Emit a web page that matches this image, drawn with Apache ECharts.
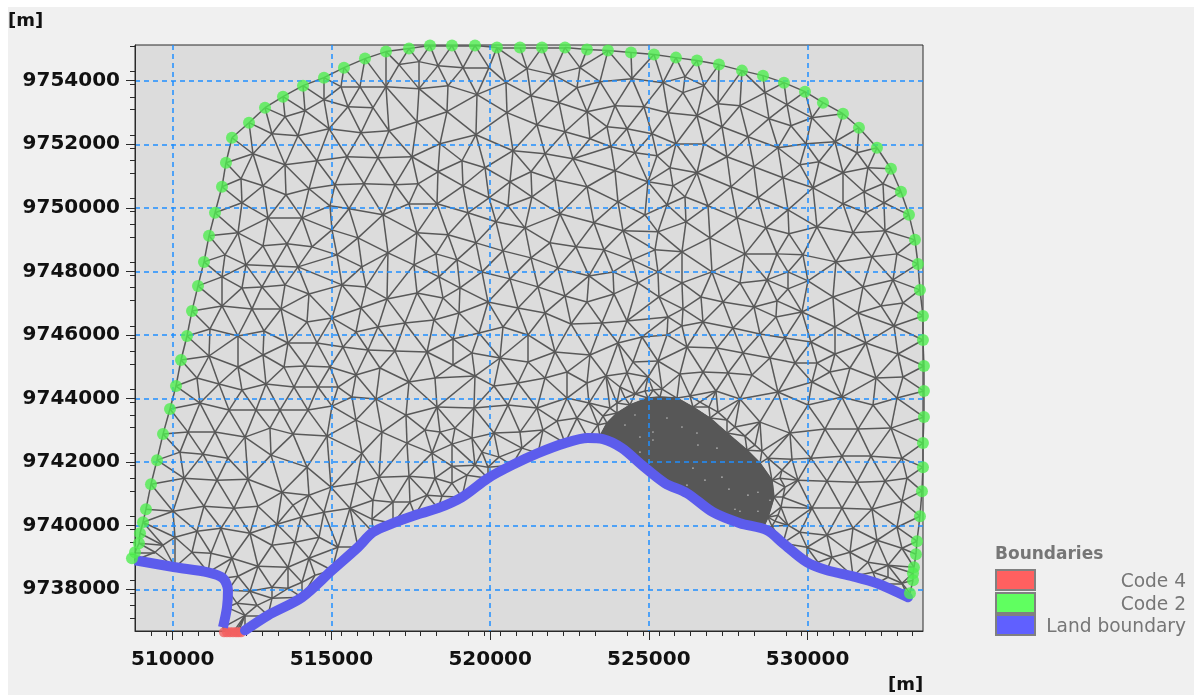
<!DOCTYPE html>
<html>
<head>
<meta charset="utf-8">
<script src="https://cdn.jsdelivr.net/npm/echarts@6/dist/echarts.min.js"></script>
<style>
html,body{margin:0;padding:0;background:#fff;width:1194px;height:695px;overflow:hidden}
#bg{position:absolute;left:8px;top:7px;width:1186px;height:688px;background:#f0f0f0}
#chart{position:absolute;left:0;top:0;width:1194px;height:695px}
</style>
</head>
<body>
<div id="bg"></div>
<div id="chart"></div>
<script>
const xTicks = [510000,515000,520000,525000,530000];
const yTicks = [9738000,9740000,9742000,9744000,9746000,9748000,9750000,9752000,9754000];
const xMin = 508813, xMax = 533636, yMin = 9736688, yMax = 9755123;
const legendNames = ['Code 4','Code 2','Land boundary'];

const greenNodes = [
[508718,9738976],[508813,9739165],[508939,9739449],[508970,9739764],[509065,9740110],[509159,9740520],[509317,9741307],[509506,9742063],[509695,9742882],[509915,9743670],[510104,9744394],[510262,9745213],[510451,9745969],[510608,9746757],[510797,9747544],[510986,9748300],[511144,9749119],[511333,9749844],[511553,9750663],[511679,9751419],[511868,9752206],[512404,9752679],[512908,9753151],[513475,9753498],[514105,9753844],[514766,9754096],[515396,9754411],[516058,9754695],[516719,9754915],[517444,9755010],[518105,9755104],[518798,9755104],[519523,9755104],[520216,9755041],[520940,9755041],[521633,9755041],[522358,9755041],[523051,9754978],[523712,9754947],[524437,9754884],[525161,9754821],[525854,9754726],[526516,9754632],[527209,9754506],[527933,9754317],[528595,9754159],[529256,9753939],[529918,9753655],[530485,9753309],[531115,9752962],[531619,9752521],[532186,9751891],[532627,9751230],[532942,9750505],[533194,9749781],[533383,9748993],[533477,9748237],[533540,9747418],[533635,9746599],[533635,9745843],[533666,9745024],[533666,9744237],[533666,9743418],[533635,9742599],[533635,9741843],[533603,9741087],[533540,9740299],[533446,9739512],[533414,9739102],[533351,9738693],[533320,9738504],[533320,9738283],[533225,9737874]];

const landWest = [[508813,9738913],[510073,9738693],[511112,9738535],[511585,9738346],[511742,9737968],[511711,9737433],[511585,9736803]];

const landMain = [[512278,9736708],[513002,9737181],[514073,9737748],[515018,9738598],[515837,9739323],[516310,9739795],[516940,9740079],[517633,9740331],[518357,9740551],[519113,9740898],[519932,9741496],[520688,9741906],[521507,9742284],[522358,9742599],[523082,9742756],[523555,9742725],[524153,9742441],[524783,9741906],[525508,9741339],[526201,9741024],[527020,9740425],[527870,9740079],[528721,9739858],[529225,9739449],[529981,9738850],[530611,9738598],[531430,9738409],[532186,9738189],[533162,9737748]];

const redNodes = [[511616,9736645],[511710,9736645],[511805,9736645],[511900,9736645],[511994,9736645],[512070,9736645],[512152,9736645]];

const blobEdge = [[523460,9742819],[523681,9743229],[523996,9743544],[524405,9743796],[524972,9744016],[525350,9744048],[525886,9744016],[526390,9743733],[526925,9743386],[527461,9742914],[528091,9742378],[528500,9741969],[528878,9741433],[528941,9740898],[528752,9740268],[528595,9739921],[527870,9740079],[527020,9740425],[526201,9741024],[525508,9741339],[524783,9741906],[524153,9742441]];

const blobFringe = [[523397,9743166],[523775,9743701],[524248,9744016],[524878,9744237],[525413,9744300],[526610,9743890],[527177,9743575],[527713,9743103],[528343,9742536],[528752,9742126],[529130,9741496],[529225,9740898],[529067,9740331],[528878,9739984]];

const blobFringeFine = [[529193,9741748],[529288,9741213],[529162,9740583],[528973,9740142],[528563,9742347],[528028,9742819],[527461,9743323],[526894,9743733],[526295,9744079],[525130,9744268],[524563,9744142],[523996,9743859],[523555,9743449]];

const blobSpecks = [[526390,9741811],[526547,9742536],[527146,9742441],[526768,9741433],[527303,9741528],[526201,9741276],[528122,9740961],[528437,9741055],[527870,9740457],[528437,9740457],[527524,9741150],[527713,9740520],[528815,9740803],[525571,9743386],[526043,9743103],[526516,9742914],[524248,9743166],[524563,9743481],[524720,9742788],[525130,9742945],[525130,9742693],[524720,9742315]];

const meshNodes = [
[514766,9753403],[514168,9753057],[513538,9752868],[513128,9752332],[513947,9752269],[514924,9752490],[515932,9752364],[516814,9752427],[515522,9753183],[516310,9753151],[515900,9753813],[516719,9753813],[515302,9753813],[517129,9754506],[512530,9751702],[513538,9751356],[514546,9751482],[515491,9751608],[516467,9751576],[512845,9750694],[512152,9750915],[513569,9750411],[514294,9750600],[515113,9750726],[516026,9750757],[517003,9750726],[512183,9750159],[513002,9749686],[514073,9749686],[514955,9750064],[515554,9749970],[516625,9749781],[512057,9749214],[515018,9749308],[515837,9749056],
[517759,9754600],[518357,9754474],[519145,9754411],[519964,9754411],[521161,9754380],[521980,9754191],[522830,9754411],[523460,9753970],[524468,9754065],[525445,9753939],[520499,9753939],[517759,9753750],[518672,9753844],[519586,9753561],[521287,9753529],[522169,9753309],[522736,9753781],[523051,9753025],[523933,9753214],[524846,9753183],[525602,9752994],[518641,9753025],[517696,9752710],[520531,9752994],[519554,9752301],[521476,9752616],[522358,9752395],[523681,9752553],[524311,9752490],[525098,9752332],[523145,9752175],[523807,9751923],[518420,9752017],[517538,9751608],[519113,9751482],[520720,9751797],[521728,9751702],[522610,9751545],[524563,9751734],[525256,9751639],[519838,9751261],[518357,9751135],[521287,9751135],[523933,9751167],[524972,9750820],[520625,9750820],[522043,9750883],[523051,9750663],[517727,9750757],[519145,9750694],[519964,9750316],[521318,9750348],[518326,9750127],[517444,9750127],[520562,9750064],[524027,9750190],[525571,9750096],[519302,9749844],[522200,9749812],[524878,9749781],[520184,9749560],[521098,9749371],[523271,9749529],[524185,9749277],[517696,9749214],[518672,9749151],[525287,9749245],
[526138,9754128],[526736,9753844],[526075,9753624],[527870,9753214],[527177,9753277],[528658,9753624],[529351,9753246],[530138,9752836],[529477,9752584],[528784,9752805],[526516,9752899],[527303,9752553],[528122,9752238],[529067,9751891],[529949,9752017],[530863,9752080],[531556,9751734],[525854,9752017],[526736,9752017],[527461,9751608],[528311,9751293],[529760,9751356],[530359,9751450],[531115,9751104],[531902,9751261],[532375,9750757],[531776,9750505],[532406,9750159],[531839,9749844],[531115,9750127],[530170,9750631],[529225,9750946],[526516,9751104],[525665,9751261],[525760,9750694],[527587,9750663],[528437,9750316],[526138,9750348],[526862,9750064],[529382,9749938],[527776,9749686],[528689,9749371],[526169,9749560],[526925,9749056],[530296,9749403],[529414,9749182],[531430,9749214],[532438,9749277],
[511648,9748521],[512309,9748206],[513191,9748174],[513947,9748143],[512845,9748804],[513601,9748867],[514388,9748773],[515176,9748521],[515963,9748143],[516782,9748584],[511553,9747828],[512183,9747481],[512813,9747513],[513538,9747576],[514294,9747292],[515333,9747576],[516089,9747513],[516751,9747135],[511553,9746914],[512498,9746820],[513412,9746820],[514231,9746410],[515018,9746536],[515932,9746851],[511175,9746190],[512057,9745969],[512876,9746127],[513632,9745749],[514546,9745749],[515774,9746095],[516467,9746253],[515365,9745623],[516152,9745528],[517003,9745497],[511144,9745339],[512845,9745371],[512057,9744993],[513506,9744993],[514168,9745024],[514955,9744993],[515774,9744741],[516530,9744961],[510766,9744646],[511459,9744457],[512939,9744457],[513821,9744363],[514577,9744363],[515207,9744363],[510860,9743859],[512183,9744268],[511774,9743638],[512624,9743638],[513380,9743638],[514262,9743638],[515018,9743764],[515648,9744048],[516404,9743985],[515774,9743323],[510482,9742945],[511333,9742945],[512278,9742788],[513065,9743071],[513790,9742882],[514861,9742819],[516593,9742945],
[518294,9748552],[518956,9748363],[519554,9748899],[520405,9748647],[521287,9748426],[521885,9748899],[522704,9748773],[522137,9748111],[523586,9748678],[524468,9748363],[525193,9748678],[517601,9748206],[518389,9747828],[519743,9747985],[520625,9747765],[521507,9747513],[523114,9747859],[523870,9747985],[524657,9747639],[525287,9747985],[517696,9747324],[519050,9747481],[518515,9747166],[519932,9747040],[520877,9746851],[522358,9747229],[523051,9747040],[523901,9747292],[525319,9747198],[519019,9746694],[518231,9746473],[517318,9746379],[521728,9746694],[520405,9746253],[519649,9746064],[521192,9746001],[522547,9746347],[523523,9746379],[524311,9746442],[524783,9745938],[525571,9746001],[518830,9745875],[518011,9745465],[519428,9745434],[520310,9745276],[522043,9745465],[523145,9745371],[524027,9745749],[524500,9745150],[525287,9745182],[521192,9745150],[518830,9745056],[519523,9744709],[518263,9744646],[517444,9744520],[520121,9744394],[520877,9744489],[521728,9744646],[522421,9744835],[523649,9744709],[524311,9744804],[524972,9744678],[523051,9744489],[524090,9744363],[522421,9744016],[523114,9743859],[521476,9743701],[520562,9743796],[519491,9743701],[518326,9743733],[517349,9743481],[518893,9743071],[520121,9742914],[520940,9742945],[521665,9743008],[518420,9742945],[517948,9743008],[522736,9743386],[523460,9743481],[522421,9742851],
[526043,9748615],[526988,9748993],[528028,9748552],[529036,9748552],[529855,9748521],[530894,9748300],[532028,9748458],[532816,9748552],[526988,9747985],[526043,9747639],[527870,9747639],[528721,9747733],[529382,9747985],[530012,9747702],[530800,9747198],[531745,9747513],[532690,9747733],[526642,9747198],[527335,9747040],[528311,9746883],[529036,9747072],[529382,9747450],[529823,9746725],[531587,9746694],[532312,9746914],[533005,9747009],[526075,9746820],[525602,9746568],[526705,9746410],[527650,9746221],[526043,9746284],[528500,9746032],[529004,9746568],[529288,9745906],[530863,9746253],[532721,9746284],[530107,9745780],[531839,9745749],[526201,9745623],[527146,9745591],[527965,9745434],[528815,9745276],[530863,9745402],[532847,9745402],[529603,9745119],[530296,9745119],[531335,9744961],[530705,9744835],[532154,9744646],[533005,9744678],[526705,9744835],[527492,9744804],[525980,9744772],[528248,9744741],[530138,9744520],[529067,9744205],[531083,9744048],[532060,9743796],[532816,9744016],[528122,9744489],[526390,9744237],[527114,9744237],[525886,9744237],[527870,9743985],[530012,9743796],[528500,9743260],[527776,9743197],[529445,9742914],[530548,9743040],[531587,9743040],[532627,9743071],[528154,9742788],
[528595,9742599],[529288,9742693],[529508,9742095],[530107,9742126],[531083,9742189],[531997,9742189],[532973,9742126],[529036,9742221],[529697,9741433],[530611,9741402],[531556,9741370],[532438,9741402],[533131,9741496],[529382,9740835],[530138,9740551],[531083,9740551],[532028,9740520],[532973,9740772],[529036,9740110],[529760,9739795],[530611,9739701],[531430,9739921],[532186,9739543],[532816,9739953],[532973,9739291],[531335,9739165],[530768,9739008],[531902,9738850],[532532,9738756],[529981,9739323],[530327,9738850],[533068,9738693],[532973,9738189],[532532,9738378],[531430,9738661],[532060,9738535],[529382,9740016],
[510230,9742315],[510955,9742252],[511742,9742126],[513097,9742221],[514231,9741843],[515963,9742284],[510356,9741496],[511396,9741433],[512372,9741464],[513443,9741055],[514294,9740961],[514987,9741213],[515774,9741339],[516499,9741528],[510010,9740457],[510986,9740614],[511931,9740551],[512687,9740614],[513790,9740646],[514766,9740425],[515585,9740551],[516310,9740803],[516940,9740740],[514042,9740268],[513286,9740047],[510766,9739827],[511522,9739921],[512435,9739764],[510073,9739638],[509222,9739606],[509695,9739386],[510608,9739165],[511207,9739134],[511868,9738976],[513128,9739386],[513853,9739480],[514609,9739638],[515207,9739323],[515743,9739543],[516278,9740205],[512687,9738724],[513632,9738693],[514294,9738976],[514924,9738882],[512057,9738409],[512435,9737937],[513128,9738063],[513632,9738031],[514483,9738441],[514073,9738220],[512026,9737559],[512656,9737496],[513128,9737716],[512278,9737181],[512026,9736866],[509443,9739165],[510010,9738882],
[517381,9742599],[518798,9742567],[519428,9742756],[522106,9743291],[518168,9742284],[519743,9742315],[521003,9742441],[521381,9742504],[521696,9742693],[520279,9742158],[520720,9742158],[518798,9741874],[519523,9741906],[519932,9741843],[517444,9741559],[518263,9741496],[519271,9741591],[518798,9741339],[518011,9740961],[518483,9740929],[517475,9740740],[517003,9740646]];

function delaunay(pts) {
  const cx = (xMin + xMax) / 2, cy = (yMin + yMax) / 2, big = 1e6;
  const p = pts.map(q => [q[0] - cx, q[1] - cy]);
  const n = p.length;
  p.push([-big, -big], [big, -big], [0, big]);
  const circ = (a, b, c) => {
    const A = p[a], B = p[b], C = p[c];
    const d = 2 * (A[0] * (B[1] - C[1]) + B[0] * (C[1] - A[1]) + C[0] * (A[1] - B[1]));
    const s = q => q[0] * q[0] + q[1] * q[1];
    const ux = (s(A) * (B[1] - C[1]) + s(B) * (C[1] - A[1]) + s(C) * (A[1] - B[1])) / d;
    const uy = (s(A) * (C[0] - B[0]) + s(B) * (A[0] - C[0]) + s(C) * (B[0] - A[0])) / d;
    return { a, b, c, ux, uy, r: (A[0] - ux) ** 2 + (A[1] - uy) ** 2 };
  };
  let tris = [circ(n, n + 1, n + 2)];
  for (let i = 0; i < n; i++) {
    const q = p[i], keep = [], edges = new Map();
    for (const t of tris) {
      if ((q[0] - t.ux) ** 2 + (q[1] - t.uy) ** 2 < t.r) {
        for (const [u, v] of [[t.a, t.b], [t.b, t.c], [t.c, t.a]]) {
          const k = u < v ? u + '_' + v : v + '_' + u;
          edges.set(k, edges.has(k) ? null : [u, v]);
        }
      } else keep.push(t);
    }
    for (const e of edges.values()) if (e) keep.push(circ(e[0], e[1], i));
    tris = keep;
  }
  return tris.filter(t => t.a < n && t.b < n && t.c < n);
}
function inside(poly, x, y) {
  let c = false;
  for (let i = 0, j = poly.length - 1; i < poly.length; j = i++) {
    const a = poly[i], b = poly[j];
    if ((a[1] > y) !== (b[1] > y) && x < (b[0] - a[0]) * (y - a[1]) / (b[1] - a[1]) + a[0]) c = !c;
  }
  return c;
}
const domain = [...greenNodes, ...landMain.slice().reverse(), ...redNodes.slice().reverse(), ...landWest.slice().reverse()];
const allNodes = [...domain, ...blobEdge.slice(0, 16), ...blobFringe, ...blobFringeFine];
// Crops of the picture overlap, so a node read twice is kept only once.
for (const m of meshNodes) {
  if (!allNodes.some(q => Math.hypot(q[0] - m[0], q[1] - m[1]) < 330)) allNodes.push(m);
}
const edgeKeys = new Set(), meshEdges = [];
function addEdge(a, b) {
  const k = a < b ? a + '_' + b : b + '_' + a;
  if (edgeKeys.has(k)) return;
  edgeKeys.add(k);
  meshEdges.push({ coords: [allNodes[a], allNodes[b]] });
}
for (const t of delaunay(allNodes)) {
  const A = allNodes[t.a], B = allNodes[t.b], C = allNodes[t.c];
  const gx = (A[0] + B[0] + C[0]) / 3, gy = (A[1] + B[1] + C[1]) / 3;
  const ok = [[A, B], [B, C], [C, A]].every(([u, v]) => {
    const mx = (u[0] + v[0]) / 2, my = (u[1] + v[1]) / 2;
    return inside(domain, mx + (gx - mx) * 0.1, my + (gy - my) * 0.1);
  }) && inside(domain, gx, gy);
  if (ok) { addEdge(t.a, t.b); addEdge(t.b, t.c); addEdge(t.c, t.a); }
}
for (let i = 1; i < greenNodes.length; i++) addEdge(i - 1, i);

const fontFam = '"DejaVu Sans", sans-serif';
const chart = echarts.init(document.getElementById('chart'), null, { renderer: 'canvas' });
const axisCommon = {
  type: 'value', z: 2, scale: true,
  axisLine: { show: true, onZero: false, lineStyle: { color: '#2a2a2a', width: 1 } },
  minorTick: { show: true, length: 5, lineStyle: { color: '#2a2a2a', width: 1 } },
  minorSplitLine: { show: false }
};
const legendY = [569, 592, 614];
const legendFill = ['#ff6060', '#60ff60', '#6060ff'];
const legendGraphic = [];
legendY.forEach((y, i) => {
  legendGraphic.push({ type: 'rect', left: 995, top: y, shape: { width: 39, height: 20 }, style: { fill: legendFill[i], stroke: '#808080', lineWidth: 2 } });
  legendGraphic.push({ type: 'text', right: 8, top: y + 4, style: { text: legendNames[i], fill: '#767676', font: '18.6px ' + fontFam } });
});
legendGraphic.push({ type: 'text', left: 995, top: 546, style: { text: 'Boundaries', fill: '#767676', font: 'bold 17px ' + fontFam } });
legendGraphic.push({ type: 'text', left: 8, top: 12, style: { text: '[m]', fill: '#111', font: 'bold 18px ' + fontFam } });
legendGraphic.push({ type: 'text', left: 888, top: 676, style: { text: '[m]', fill: '#111', font: 'bold 18px ' + fontFam } });

const plainNumber = v => String(Math.round(v));
chart.setOption({
  animation: false,
  backgroundColor: 'transparent',
  grid: { left: 135, top: 45, width: 788, height: 586, show: true, backgroundColor: '#dcdcdc', borderColor: '#2a2a2a', borderWidth: 1, containLabel: false },
  xAxis: Object.assign({}, axisCommon, {
    min: xMin, max: xMax, interval: 5000,
    minorTick: Object.assign({}, axisCommon.minorTick, { splitNumber: 10 }),
    axisTick: { show: true, length: 9, customValues: xTicks, lineStyle: { color: '#2a2a2a', width: 1 } },
    axisLabel: { customValues: xTicks, formatter: plainNumber, margin: 19, color: '#111', fontFamily: fontFam, fontWeight: 'bold', fontSize: 20 },
    splitLine: { show: true, lineStyle: { color: '#1f8fff', width: 1.5, type: [5, 4] } }
  }),
  yAxis: Object.assign({}, axisCommon, {
    min: yMin, max: yMax, interval: 2000,
    minorTick: Object.assign({}, axisCommon.minorTick, { splitNumber: 5 }),
    axisTick: { show: true, length: 9, customValues: yTicks, lineStyle: { color: '#2a2a2a', width: 1 } },
    axisLabel: { customValues: yTicks, formatter: plainNumber, margin: 15, color: '#111', fontFamily: fontFam, fontWeight: 'bold', fontSize: 20, lineHeight: 20, padding: [6, 0, 0, 0] },
    splitLine: { show: true, lineStyle: { color: '#1f8fff', width: 1.5, type: [5, 4] } }
  }),
  graphic: legendGraphic,
  series: [
    { name: 'Mesh', type: 'lines', coordinateSystem: 'cartesian2d', z: 1, silent: true, polyline: false, data: meshEdges, lineStyle: { color: '#585858', width: 1.5, opacity: 1 }, effect: { show: false } },
    { name: 'Dense mesh', type: 'custom', coordinateSystem: 'cartesian2d', z: 1, silent: true, clip: true, data: [blobEdge[0]],
      renderItem: (params, api) => ({ type: 'polygon', shape: { points: blobEdge.map(p => api.coord(p)) }, style: { fill: '#575757', stroke: '#575757', lineWidth: 1 } }) },
    { name: 'Dense mesh gaps', type: 'scatter', z: 1, silent: true, symbolSize: 1.6, data: blobSpecks, itemStyle: { color: '#d8d8d8' } },
    { name: 'Code 4', type: 'scatter', z: 3, clip: false, silent: true, symbol: 'circle', symbolSize: 10, data: redNodes, itemStyle: { color: '#f26060' } },
    { name: 'Land boundary', type: 'line', z: 4, clip: false, silent: true, showSymbol: false, smooth: 0.3, data: landWest, lineStyle: { color: '#5c5cec', width: 10, cap: 'butt', join: 'round' } },
    { name: 'Land boundary', type: 'line', z: 4, clip: false, silent: true, showSymbol: false, smooth: 0.3, data: landMain, lineStyle: { color: '#5c5cec', width: 10, cap: 'round', join: 'round' } },
    { name: 'Code 2', type: 'scatter', z: 5, clip: false, silent: true, symbol: 'circle', symbolSize: 12, data: greenNodes, itemStyle: { color: '#50ee50' } }
  ]
});
</script>
</body>
</html>
